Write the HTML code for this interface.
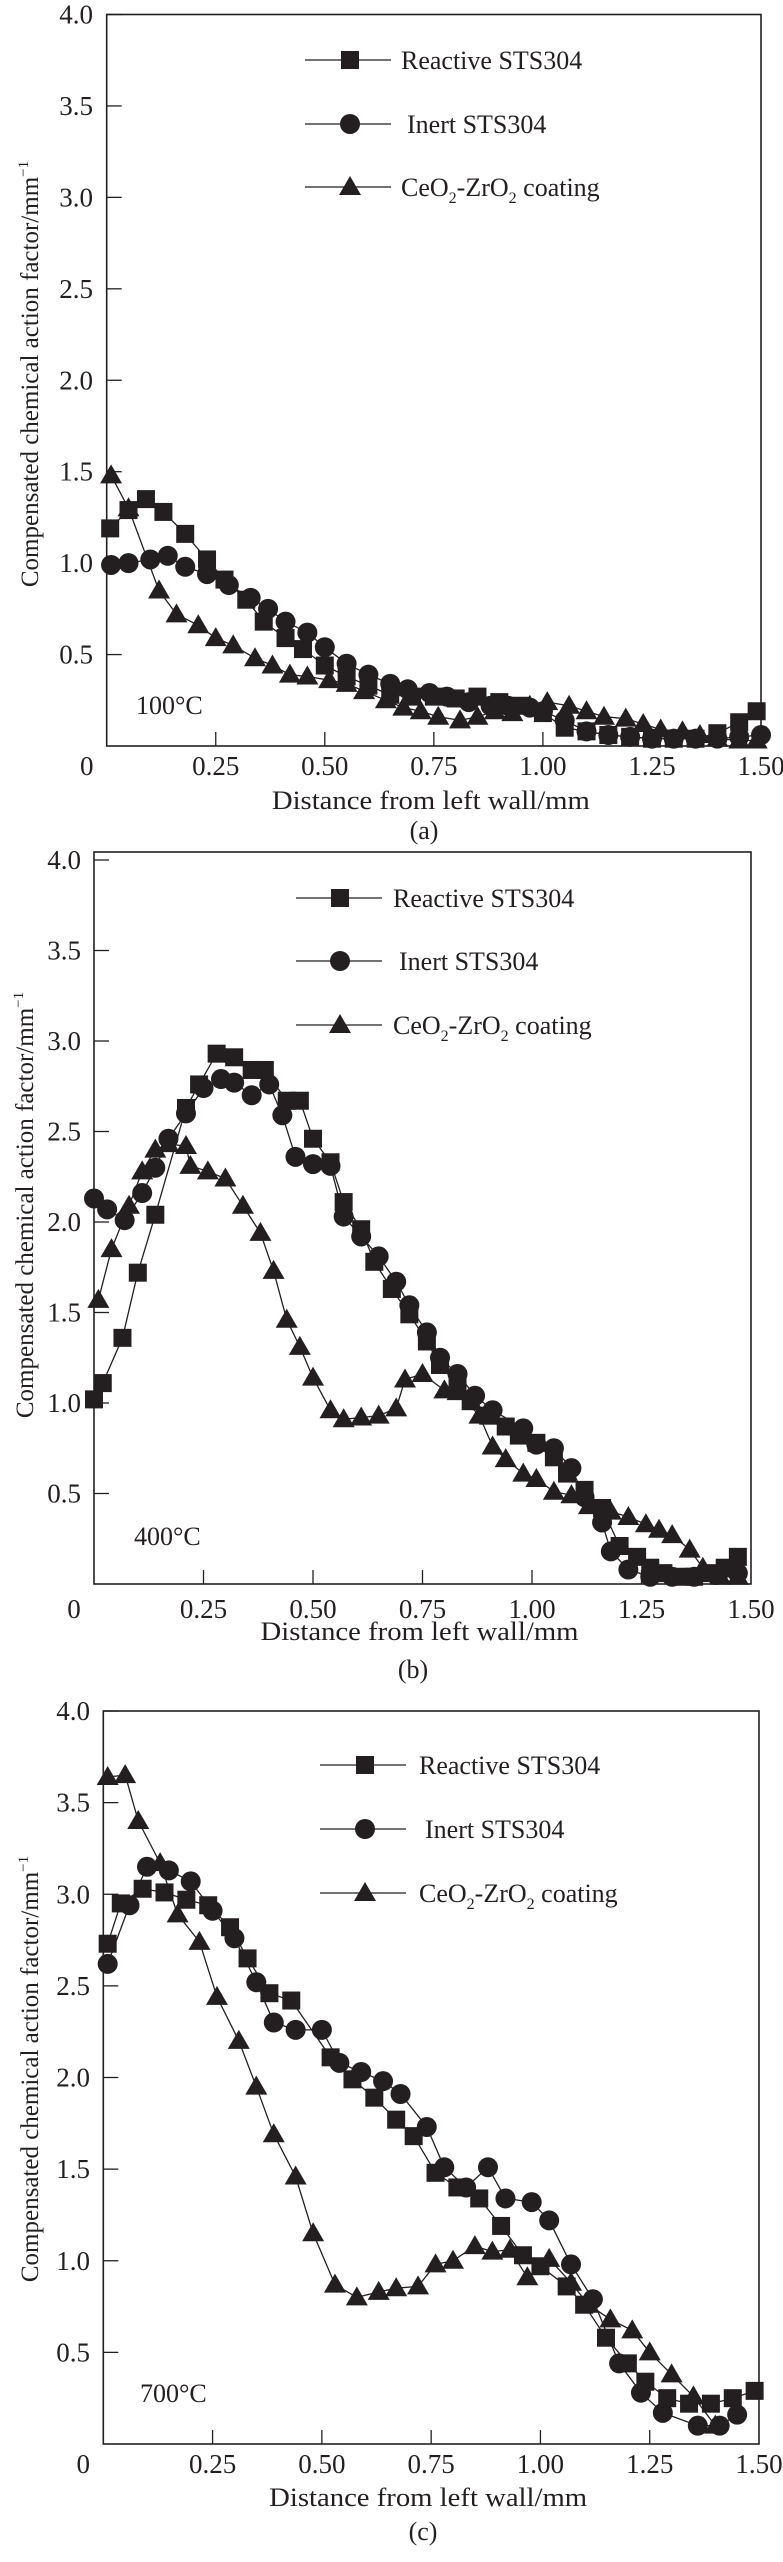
<!DOCTYPE html>
<html><head><meta charset="utf-8"><style>
html,body{margin:0;padding:0;background:#fff;}
svg{display:block;font-family:"Liberation Serif",serif;}
</style></head><body>
<svg id="chart" width="783" height="2562" viewBox="0 0 783 2562" xmlns="http://www.w3.org/2000/svg"></svg>
<script>
// ---- data (x in mm, y in mm^-1) ----
const xTicks = [0, 0.25, 0.5, 0.75, 1.0, 1.25, 1.5];
const xTickLabels = ["0", "0.25", "0.50", "0.75", "1.00", "1.25", "1.50"];
const yTicks = [0.5, 1.0, 1.5, 2.0, 2.5, 3.0, 3.5, 4.0];
const yTickLabels = ["0.5", "1.0", "1.5", "2.0", "2.5", "3.0", "3.5", "4.0"];
const seriesNames = ["Reactive STS304", "Inert STS304", "CeO2-ZrO2 coating"];

const aReactiveX = [0.008,0.05,0.09,0.13,0.18,0.23,0.27,0.32,0.36,0.41,0.45,0.50,0.55,0.60,0.65,0.70,0.75,0.80,0.85,0.90,0.95,1.00,1.05,1.10,1.15,1.20,1.25,1.30,1.35,1.40,1.45,1.49];
const aReactiveY = [1.19,1.29,1.35,1.28,1.16,1.02,0.91,0.80,0.68,0.59,0.53,0.44,0.38,0.33,0.28,0.27,0.27,0.26,0.27,0.24,0.22,0.18,0.10,0.08,0.06,0.05,0.04,0.04,0.04,0.07,0.13,0.19];
const aInertX = [0.01,0.05,0.10,0.14,0.18,0.23,0.28,0.33,0.37,0.41,0.46,0.50,0.55,0.60,0.65,0.69,0.74,0.78,0.83,0.88,0.92,0.97,1.00,1.05,1.10,1.15,1.20,1.25,1.30,1.35,1.40,1.45,1.50];
const aInertY = [0.99,1.00,1.02,1.04,0.98,0.94,0.88,0.81,0.75,0.68,0.62,0.54,0.45,0.39,0.34,0.31,0.29,0.27,0.24,0.22,0.22,0.21,0.19,0.14,0.08,0.06,0.05,0.04,0.04,0.04,0.04,0.05,0.06];
const aCoatX = [0.01,0.05,0.12,0.16,0.21,0.25,0.29,0.34,0.38,0.42,0.46,0.51,0.55,0.59,0.64,0.68,0.72,0.76,0.81,0.85,0.89,0.93,0.97,1.01,1.06,1.10,1.14,1.19,1.23,1.27,1.32,1.36,1.40,1.45,1.49];
const aCoatY = [1.48,1.30,0.85,0.72,0.66,0.59,0.55,0.48,0.44,0.39,0.38,0.36,0.34,0.30,0.25,0.21,0.19,0.16,0.14,0.16,0.19,0.18,0.22,0.24,0.22,0.19,0.16,0.15,0.12,0.09,0.08,0.06,0.04,0.03,0.03];

const bReactiveX = [0.0,0.02,0.065,0.10,0.14,0.21,0.24,0.28,0.32,0.36,0.39,0.44,0.47,0.50,0.54,0.57,0.61,0.64,0.68,0.72,0.76,0.79,0.83,0.86,0.90,0.94,0.97,1.01,1.05,1.08,1.12,1.16,1.20,1.24,1.27,1.30,1.34,1.37,1.41,1.44,1.47];
const bReactiveY = [1.02,1.11,1.36,1.72,2.04,2.63,2.76,2.93,2.91,2.84,2.84,2.67,2.67,2.46,2.33,2.11,1.96,1.78,1.63,1.49,1.34,1.21,1.10,1.01,0.93,0.87,0.82,0.78,0.70,0.61,0.52,0.42,0.21,0.15,0.09,0.06,0.04,0.04,0.06,0.09,0.15];
const bInertX = [0.0,0.03,0.07,0.11,0.14,0.17,0.21,0.25,0.29,0.32,0.36,0.40,0.43,0.46,0.50,0.54,0.57,0.61,0.65,0.69,0.72,0.76,0.79,0.83,0.87,0.91,0.98,1.01,1.05,1.09,1.12,1.16,1.18,1.22,1.27,1.32,1.37,1.42,1.47];
const bInertY = [2.13,2.07,2.01,2.16,2.30,2.46,2.60,2.74,2.79,2.77,2.70,2.76,2.59,2.36,2.32,2.31,2.03,1.92,1.81,1.67,1.54,1.39,1.25,1.16,1.04,0.96,0.86,0.77,0.75,0.64,0.48,0.34,0.18,0.08,0.04,0.04,0.04,0.05,0.06];
const bCoatX = [0.01,0.04,0.08,0.11,0.14,0.17,0.21,0.22,0.26,0.30,0.34,0.38,0.41,0.44,0.47,0.50,0.54,0.57,0.61,0.65,0.69,0.71,0.75,0.80,0.83,0.88,0.91,0.94,0.98,1.01,1.05,1.09,1.13,1.18,1.22,1.26,1.29,1.32,1.36,1.39,1.43,1.47];
const bCoatY = [1.57,1.85,2.09,2.28,2.40,2.43,2.42,2.31,2.28,2.24,2.09,1.94,1.73,1.46,1.31,1.14,0.96,0.91,0.92,0.93,0.97,1.13,1.16,1.07,1.06,0.93,0.76,0.69,0.61,0.58,0.51,0.49,0.43,0.40,0.37,0.33,0.30,0.27,0.19,0.09,0.04,0.04];

const cReactiveX = [0.01,0.04,0.09,0.14,0.19,0.24,0.29,0.33,0.38,0.43,0.52,0.57,0.62,0.67,0.71,0.76,0.81,0.86,0.91,0.96,1.00,1.06,1.10,1.15,1.20,1.24,1.29,1.34,1.39,1.44,1.49];
const cReactiveY = [2.73,2.95,3.03,3.01,2.97,2.94,2.82,2.65,2.46,2.42,2.11,1.99,1.89,1.77,1.68,1.48,1.40,1.34,1.19,1.03,0.97,0.86,0.76,0.58,0.44,0.34,0.25,0.22,0.22,0.25,0.29];
const cInertX = [0.01,0.06,0.10,0.15,0.20,0.25,0.30,0.35,0.39,0.44,0.50,0.54,0.59,0.64,0.68,0.74,0.78,0.83,0.88,0.92,0.98,1.02,1.07,1.12,1.18,1.23,1.28,1.36,1.41,1.45];
const cInertY = [2.62,2.94,3.15,3.13,3.07,2.91,2.76,2.52,2.30,2.26,2.26,2.08,2.03,1.98,1.91,1.73,1.51,1.40,1.51,1.34,1.32,1.22,0.98,0.79,0.44,0.28,0.17,0.10,0.10,0.16];
const cCoatX = [0.01,0.05,0.08,0.13,0.17,0.22,0.26,0.31,0.35,0.39,0.44,0.48,0.53,0.58,0.63,0.67,0.72,0.76,0.80,0.85,0.89,0.93,0.97,1.02,1.07,1.11,1.16,1.21,1.25,1.30,1.35,1.40];
const cCoatY = [3.64,3.65,3.40,3.17,2.89,2.74,2.44,2.20,1.95,1.69,1.46,1.15,0.87,0.80,0.83,0.85,0.86,0.98,1.00,1.08,1.05,1.06,0.91,1.01,0.88,0.76,0.68,0.62,0.50,0.38,0.26,0.10];

// ---- layout ----
const panels = [
  {id:"a", L:106.7, R:761, frameT:14.5, Y4:14.5, Y0:746, tickLblRight:93, tickLblY:775, xTitleY:809, capY:839, capX:424, yTitleX:30, yTitleC:374, label:"100°C", lx:136, ly:714,
   legLineX:305, legMarkX:350, legTextX:401, legY:[60,124,187], series:[[aReactiveX,aReactiveY],[aInertX,aInertY],[aCoatX,aCoatY]], cap:"(a)"},
  {id:"b", L:94, R:751, frameT:852, Y4:860, Y0:1584, tickLblRight:81, tickLblY:1618, xTitleY:1640, capY:1678, capX:413, yTitleX:25, yTitleC:1205, label:"400°C", lx:134, ly:1545,
   legLineX:296, legMarkX:340, legTextX:393, legY:[898,961,1025], series:[[bReactiveX,bReactiveY],[bInertX,bInertY],[bCoatX,bCoatY]], cap:"(b)"},
  {id:"c", L:103.3, R:759, frameT:1711, Y4:1711, Y0:2444, tickLblRight:90, tickLblY:2473, xTitleY:2506, capY:2540, capX:423, yTitleX:30, yTitleC:2069, label:"700°C", lx:140, ly:2402,
   legLineX:320, legMarkX:365, legTextX:419, legY:[1765,1829,1893], series:[[cReactiveX,cReactiveY],[cInertX,cInertY],[cCoatX,cCoatY]], cap:"(c)"}
];
const NS = "http://www.w3.org/2000/svg";
const svg = document.getElementById("chart");
function mk(tag, attrs, parent){const e=document.createElementNS(NS,tag);for(const k in attrs)e.setAttribute(k,attrs[k]);(parent||svg).appendChild(e);return e;}
const C = "#231f20";
function marker(g, kind, cx, cy){
  let e;
  if(kind===0) e=mk("rect",{x:cx-9,y:cy-9,width:18,height:18,fill:C},g);
  else if(kind===1) e=mk("circle",{cx:cx,cy:cy,r:10,fill:C},g);
  else e=mk("polygon",{points:`${cx},${cy-11} ${cx-11},${cy+8} ${cx+11},${cy+8}`,fill:C},g);
  return e;
}
const markerNames=["square-marker","circle-marker","triangle-marker"];
const seriesKeys=["reactive","inert","coating"];

panels.forEach(p=>{
  const g = mk("g",{});
  
  
  const xS = v => p.L + (p.R-p.L)*v/1.5;
  const yS = v => p.Y0 - (p.Y0-p.Y4)*v/4;
  p.series.forEach((s,si)=>{
    const sg = mk("g",{},g);
    
    
    const pts = s[0].map((x,i)=>xS(x).toFixed(1)+","+yS(s[1][i]).toFixed(1)).join(" ");
    const pl = mk("polyline",{points:pts,fill:"none",stroke:C,"stroke-width":1.3},sg);
    
    
    s[0].forEach((x,i)=>{
      const m = marker(sg, si, xS(x), yS(s[1][i]));
      
      
    });
  });
  const fr = mk("rect",{x:p.L,y:p.frameT,width:p.R-p.L,height:p.Y0-p.frameT,fill:"none",stroke:C,"stroke-width":1.6},g);
  
  
  yTicks.forEach((v,i)=>{
    const tk = mk("line",{x1:p.L,x2:p.L+15,y1:yS(v),y2:yS(v),stroke:C,"stroke-width":1.3},g);
    
    
    const t = mk("text",{x:p.tickLblRight,y:yS(v)+9,"text-anchor":"end","font-size":27,fill:C},g);
    t.textContent = yTickLabels[i];
    
    
  });
  xTicks.forEach((v,i)=>{
    if(i>0 && i<xTicks.length-1){
      const tk = mk("line",{x1:xS(v),x2:xS(v),y1:p.Y0,y2:p.Y0-14,stroke:C,"stroke-width":1.3},g);
      
      
    }
    const t = mk("text",{x: i===0 ? xS(v)-20 : xS(v), y:p.tickLblY,"text-anchor":"middle","font-size":27,fill:C},g);
    t.textContent = xTickLabels[i];
    
    
  });
  const xt = mk("text",{x:(p.L+p.R)/2-3,y:p.xTitleY,"text-anchor":"middle","font-size":26,fill:C,textLength:318,lengthAdjust:"spacingAndGlyphs"},g);
  xt.textContent = "Distance from left wall/mm";
  
  
  const cp = mk("text",{x:p.capX,y:p.capY,"text-anchor":"middle","font-size":26,fill:C},g);
  cp.textContent = p.cap;
  
  
  const yc = p.yTitleC;
  const yt = mk("text",{x:p.yTitleX,y:yc,"text-anchor":"middle","font-size":25,fill:C,transform:`rotate(-90 ${p.yTitleX} ${yc})`,dy:"8"},g);
  yt.innerHTML = 'Compensated chemical action factor/mm<tspan dy="-10" font-size="15">−1</tspan>';
  
  
  const tl = mk("text",{x:p.lx,y:p.ly,"font-size":26,fill:C},g);
  tl.textContent = p.label;
  
  
  const lg = mk("g",{},g);
  
  
  p.legY.forEach((ly,si)=>{
    const eg = mk("g",{},lg);
    
    
    const ln = mk("line",{x1:p.legLineX,x2:p.legLineX+86,y1:ly,y2:ly,stroke:C,"stroke-width":1.3},eg);
    
    
    const m = marker(eg, si, p.legMarkX, ly);
    
    
    const t = mk("text",{x:p.legTextX + (si===1?6:0),y:ly+9,"font-size":26,fill:C},eg);
    if(si===2) t.innerHTML='CeO<tspan dy="7" font-size="16">2</tspan><tspan dy="-7">-ZrO</tspan><tspan dy="7" font-size="16">2</tspan><tspan dy="-7"> coating</tspan>';
    else t.textContent = seriesNames[si];
    
    
  });
});
</script>
</body></html>
